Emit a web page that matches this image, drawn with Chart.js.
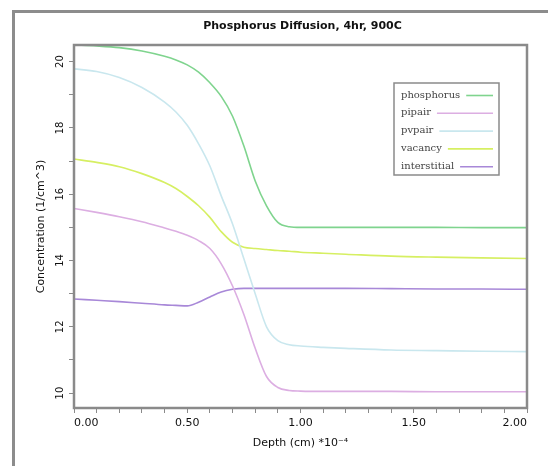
<!DOCTYPE html>
<html>
<head>
<meta charset="utf-8">
<script src="https://cdn.jsdelivr.net/npm/chart.js@4.4.1/dist/chart.umd.min.js"></script>
<style>
  html, body { margin: 0; padding: 0; background: #ffffff; overflow: hidden; }
  canvas { display: block; }
</style>
</head>
<body>
<canvas id="c" width="548" height="466"></canvas>
<script>
// ---- Data ----
const chartTitle = 'Phosphorus Diffusion, 4hr, 900C';
const xTitle = 'Depth (cm) *10\u207B\u2074';
const yTitle = 'Concentration (1/cm^3)';
const seriesNames = ['phosphorus', 'pipair', 'pvpair', 'vacancy', 'interstitial'];
const seriesColors = ['#7fd48e', '#dcaee2', '#c9e7ee', '#d6ef62', '#a888d8'];

const depth =        [0.00, 0.10, 0.20, 0.30, 0.40, 0.45, 0.50, 0.55, 0.60, 0.65, 0.70, 0.75, 0.80, 0.85, 0.90, 0.95, 1.00, 1.10, 1.20, 1.40, 1.60, 1.80, 2.00];
const phosphorus =   [20.50, 20.47, 20.42, 20.32, 20.16, 20.05, 19.90, 19.68, 19.36, 18.95, 18.35, 17.45, 16.40, 15.65, 15.15, 15.02, 15.00, 15.00, 15.00, 15.00, 15.00, 14.99, 14.99];
const pipair =       [15.57, 15.45, 15.32, 15.17, 14.98, 14.88, 14.76, 14.60, 14.36, 13.90, 13.23, 12.37, 11.35, 10.50, 10.17, 10.08, 10.06, 10.05, 10.05, 10.05, 10.04, 10.04, 10.04];
const pvpair =       [19.78, 19.70, 19.52, 19.22, 18.78, 18.48, 18.08, 17.52, 16.85, 15.95, 15.10, 14.05, 13.00, 12.00, 11.58, 11.46, 11.42, 11.38, 11.35, 11.30, 11.28, 11.26, 11.25];
const vacancy =      [17.06, 16.96, 16.83, 16.62, 16.35, 16.17, 15.93, 15.65, 15.30, 14.87, 14.55, 14.40, 14.36, 14.33, 14.30, 14.28, 14.25, 14.22, 14.19, 14.13, 14.10, 14.08, 14.06];
const interstitial = [12.84, 12.80, 12.76, 12.71, 12.66, 12.645, 12.63, 12.74, 12.90, 13.05, 13.13, 13.16, 13.16, 13.16, 13.16, 13.16, 13.16, 13.16, 13.16, 13.15, 13.14, 13.14, 13.13];

const xMin = 0, xMax = 2.0, xStep = 0.1, xLabelEvery = 0.5;
const yMin = 9.55, yMax = 20.5, yStep = 1, yLabelEvery = 2;

const seriesValues = [phosphorus, pipair, pvpair, vacancy, interstitial];

// ---- Build chart ----
const datasets = seriesNames.map((name, i) => ({
  label: name,
  data: depth.map((d, j) => ({ x: d, y: seriesValues[i][j] })),
  borderColor: seriesColors[i],
  backgroundColor: seriesColors[i],
  borderWidth: 1.6,
  pointRadius: 0,
  fill: false,
  tension: 0.4,
  cubicInterpolationMode: 'monotone'
}));

const frameColor = '#8a8a8a';

const decorPlugin = {
  id: 'decor',
  beforeDraw(chart) {
    const ctx = chart.ctx;
    ctx.save();
    ctx.fillStyle = '#ffffff';
    ctx.fillRect(0, 0, chart.width, chart.height);
    // outer frame (only left and top edges are visible in the picture)
    ctx.strokeStyle = '#8c8c8c';
    ctx.lineWidth = 3;
    ctx.beginPath();
    ctx.moveTo(13.5, chart.height + 5);
    ctx.lineTo(13.5, 11.5);
    ctx.lineTo(chart.width + 5, 11.5);
    ctx.stroke();
    ctx.restore();
  },
  afterDraw(chart) {
    const ctx = chart.ctx;
    const a = chart.chartArea;
    ctx.save();
    // plot frame
    ctx.strokeStyle = frameColor;
    ctx.lineWidth = 2.5;
    ctx.strokeRect(a.left, a.top, a.right - a.left, a.bottom - a.top);
    // title centered on the plot area
    ctx.fillStyle = '#111';
    ctx.font = 'bold 11px "DejaVu Sans"';
    ctx.textAlign = 'center';
    ctx.textBaseline = 'middle';
    ctx.fillText(chartTitle, (a.left + a.right) / 2 + 2, 26);
    // legend box
    const bx = 394, by = 83, bw = 105, bh = 92;
    ctx.strokeStyle = '#8a8a8a';
    ctx.lineWidth = 1.5;
    ctx.strokeRect(bx, by, bw, bh);
    ctx.font = '10px "DejaVu Serif"';
    ctx.textAlign = 'left';
    chart.data.datasets.forEach((ds, i) => {
      const y = by + 12 + i * 17.8;
      ctx.fillStyle = '#444';
      ctx.fillText(ds.label, bx + 7, y);
      const w = ctx.measureText(ds.label).width;
      ctx.strokeStyle = ds.borderColor;
      ctx.lineWidth = 1.6;
      ctx.beginPath();
      ctx.moveTo(bx + 7 + w + 6, y + 0.5);
      ctx.lineTo(bx + 99, y + 0.5);
      ctx.stroke();
    });
    ctx.restore();
  }
};

const isMultiple = (v, m) => Math.abs(v / m - Math.round(v / m)) < 1e-6;

new Chart(document.getElementById('c'), {
  type: 'line',
  data: { datasets },
  options: {
    responsive: false,
    animation: false,
    devicePixelRatio: 1,
    layout: { padding: { top: 45, right: 21, left: 0, bottom: 0 } },
    plugins: { legend: { display: false }, title: { display: false }, tooltip: { enabled: false } },
    scales: {
      x: {
        type: 'linear',
        min: xMin, max: xMax,
        afterFit(s) { s.height = 58; },
        border: { display: true, color: frameColor, width: 2 },
        grid: { drawOnChartArea: false, drawTicks: true, tickLength: 5, color: frameColor, lineWidth: 1 },
        ticks: {
          stepSize: xStep,
          autoSkip: false,
          includeBounds: false,
          align: 'inner',
          maxRotation: 0, minRotation: 0,
          padding: 4,
          color: '#111',
          font: { family: 'DejaVu Sans', size: 11 },
          callback: (v) => isMultiple(v, xLabelEvery) ? Number(v).toFixed(2) : ''
        },
        title: {
          display: true, text: xTitle, color: '#111',
          font: { family: 'DejaVu Sans', size: 11 },
          padding: { top: 0, bottom: 16 }
        }
      },
      y: {
        type: 'linear',
        min: yMin, max: yMax,
        afterFit(s) { s.width = 74; },
        border: { display: true, color: frameColor, width: 2 },
        grid: { drawOnChartArea: false, drawTicks: true, tickLength: 5, color: frameColor, lineWidth: 1 },
        ticks: {
          stepSize: yStep,
          autoSkip: false,
          includeBounds: false,
          minRotation: 90, maxRotation: 90,
          crossAlign: 'center',
          padding: 2,
          color: '#111',
          font: { family: 'DejaVu Sans', size: 10 },
          callback: (v) => isMultiple(v, yLabelEvery) ? String(Math.round(v)) : ''
        },
        title: {
          display: true, text: yTitle, color: '#111',
          font: { family: 'DejaVu Sans', size: 11 },
          padding: { top: 35, bottom: 0 }
        }
      }
    }
  },
  plugins: [decorPlugin]
});
</script>
</body>
</html>
